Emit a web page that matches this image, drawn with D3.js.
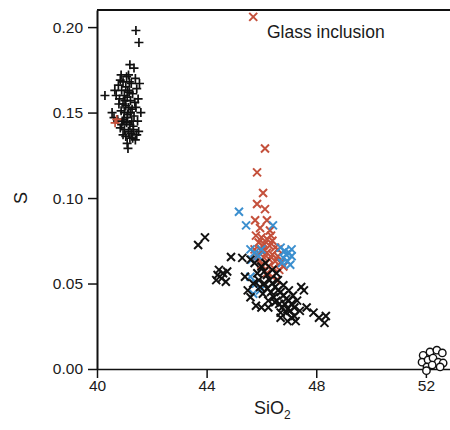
<!DOCTYPE html>
<html>
<head>
<meta charset="utf-8">
<script src="https://cdn.jsdelivr.net/npm/d3@7"></script>
<style>
  body { margin: 0; background: #fff; }
  text { font-family: "Liberation Sans", Arial, sans-serif; fill: #1a1a1a; }
</style>
</head>
<body>
<div class="div_d3"></div>
<script>
// [SiO2, S]
const plusBlack = [
  [41.42,0.198],[41.53,0.191],[40.29,0.160],[41.13,0.129],
  [41.20,0.178],[41.35,0.176],[41.15,0.172],[41.40,0.170],[40.85,0.169],[40.95,0.168],
  [41.25,0.167],[40.78,0.166],[41.05,0.165],[41.45,0.164],[40.90,0.163],[41.18,0.162],
  [41.30,0.161],[41.00,0.160],[41.10,0.159],[40.82,0.158],[41.22,0.157],[41.38,0.156],
  [40.95,0.155],[41.05,0.154],[41.15,0.153],[41.28,0.152],[40.88,0.151],[41.00,0.150],
  [41.12,0.149],[41.35,0.148],[40.55,0.150],[40.62,0.147],[40.75,0.146],[40.92,0.145],
  [41.08,0.144],[41.20,0.143],[41.32,0.142],[40.85,0.141],[41.00,0.140],[41.15,0.139],
  [41.25,0.138],[40.95,0.137],[41.05,0.136],[41.30,0.135],[41.40,0.134],[40.90,0.143],
  [41.10,0.147],[41.22,0.150],[41.02,0.157],[41.12,0.163],[41.18,0.168],[41.08,0.171],
  [40.98,0.146],[40.80,0.155],[41.42,0.153],[41.48,0.145],[41.50,0.158],[41.27,0.145],
  [40.70,0.160],[40.88,0.172],[41.55,0.167],[41.33,0.140],[41.20,0.135],[41.10,0.132],
  [41.60,0.150],[41.52,0.139],[41.45,0.137],[40.65,0.163]
];
const plusRed = [[40.66,0.144],[40.72,0.146]];

const crossBlack = [
  [43.69,0.0725],[43.94,0.077],[44.89,0.0655],[44.45,0.058],[44.60,0.056],[44.55,0.053],
  [44.75,0.057],[44.40,0.055],[44.35,0.052],[44.70,0.051],
  [45.30,0.065],[45.60,0.064],[45.75,0.062],[45.40,0.054],[45.50,0.046],[45.60,0.042],
  [45.80,0.037],[46.00,0.036],[46.25,0.036],[46.50,0.039],[46.70,0.033],[46.90,0.033],
  [47.10,0.030],[47.20,0.031],[47.45,0.048],[47.55,0.046],[47.65,0.036],[47.90,0.033],
  [48.10,0.030],[48.30,0.027],[48.35,0.031],
  [46.00,0.060],[46.10,0.057],[46.20,0.055],[46.30,0.052],[46.40,0.050],[46.50,0.048],
  [46.60,0.046],[46.70,0.045],[46.80,0.043],[46.90,0.041],[47.00,0.040],[47.10,0.038],
  [47.20,0.036],[46.35,0.045],[46.45,0.042],[46.55,0.040],[46.65,0.038],[46.75,0.036],
  [46.85,0.038],[46.95,0.035],[47.05,0.034],[46.20,0.047],[46.10,0.050],[45.90,0.052],
  [45.85,0.056],[46.05,0.044],[46.25,0.040],[46.60,0.052],[46.80,0.049],[47.00,0.046],
  [47.15,0.043],[47.30,0.040],[46.40,0.058],[46.55,0.056],[45.95,0.048],[46.70,0.030],
  [47.25,0.028],[46.95,0.028],[47.40,0.034],[45.70,0.050],[46.15,0.062]
];
const crossRed = [
  [45.70,0.206],[46.13,0.129],[45.84,0.115],[46.06,0.103],[45.84,0.0965],[46.13,0.0935],
  [45.77,0.087],[46.20,0.087],[45.95,0.0825],[46.31,0.081],
  [45.80,0.078],[46.00,0.077],[46.20,0.076],[46.40,0.075],[45.90,0.074],[46.10,0.073],
  [46.30,0.072],[46.50,0.071],[45.75,0.070],[46.00,0.069],[46.20,0.068],[46.40,0.067],
  [46.60,0.066],[45.85,0.066],[46.10,0.065],[46.30,0.064],[46.50,0.063],[46.70,0.062],
  [46.00,0.061],[46.25,0.060],[46.45,0.059],[46.65,0.058],[46.20,0.056],[46.40,0.054],
  [46.55,0.052],[46.05,0.072],[46.35,0.078],[46.60,0.070],[46.80,0.060],[45.95,0.063]
];
const crossBlue = [
  [45.18,0.092],[45.44,0.084],[46.42,0.084],
  [46.70,0.071],[46.85,0.069],[47.00,0.068],[47.10,0.066],[46.80,0.065],[46.95,0.063],
  [47.05,0.061],[46.75,0.062],[46.90,0.067],[47.10,0.070],
  [45.60,0.070],[45.75,0.068],[45.90,0.066],[45.65,0.064],[46.00,0.070],
  [45.60,0.054],[45.80,0.050],[45.95,0.046],[45.70,0.044]
];
const circles = [
  [51.90,0.008],[52.15,0.010],[52.40,0.011],[52.60,0.0094],[51.86,0.004],[52.08,0.0053],
  [52.26,0.0064],[52.45,0.004],[52.63,0.0035],[52.04,0.0012],[52.23,0.0023],[52.52,0.0012],
  [52.02,-0.001]
];

const xTicks = [40, 44, 48, 52];
const yTicks = [0, 0.05, 0.10, 0.15, 0.20];

const margin = {top: 10, right: 0, bottom: 61, left: 97},
      width = 450 - margin.left - margin.right,
      height = 430 - margin.top - margin.bottom;

const red = "#c4503b", blue = "#3b8fcf", ink = "#111";

const svg = d3.select(".div_d3")
  .append("svg")
    .attr("width", 450)
    .attr("height", 430)
  .append("g")
    .attr("transform", `translate(${margin.left},${margin.top})`);

const x = d3.scaleLinear().domain([40, 52.88]).range([0, width]);
const y = d3.scaleLinear().domain([0, 0.21]).range([height, 0]);

// axes
const xAxis = svg.append("g")
  .attr("transform", `translate(0,${height})`)
  .call(d3.axisBottom(x).tickValues(xTicks).tickSize(9).tickSizeOuter(0).tickPadding(2));
const yAxis = svg.append("g")
  .call(d3.axisLeft(y).tickValues(yTicks).tickFormat(d3.format(".2f")).tickSize(9).tickSizeOuter(0).tickPadding(5));

[xAxis, yAxis].forEach(a => {
  a.selectAll("text").style("font-size", "15.5px").attr("fill", "#1a1a1a");
  a.selectAll("line").attr("stroke", ink).attr("stroke-width", 1.5);
  a.select(".domain").attr("stroke", ink).attr("stroke-width", 1.6);
});
yAxis.select(".domain").attr("stroke-width", 2);

// top frame line
svg.append("line")
  .attr("x1", 0).attr("x2", width)
  .attr("y1", 0).attr("y2", 0)
  .attr("stroke", ink).attr("stroke-width", 2.2);

// markers
function drawPlus(data, color){
  const s = 4.5;
  svg.append("g").selectAll("path")
    .data(data)
    .join("path")
      .attr("d", d => `M${x(d[0])-s},${y(d[1])}H${x(d[0])+s}M${x(d[0])},${y(d[1])-s}V${y(d[1])+s}`)
      .attr("stroke", color)
      .attr("stroke-width", 1.7)
      .attr("fill", "none");
}
function drawCross(data, color){
  const s = 4;
  svg.append("g").selectAll("path")
    .data(data)
    .join("path")
      .attr("d", d => `M${x(d[0])-s},${y(d[1])-s}L${x(d[0])+s},${y(d[1])+s}M${x(d[0])-s},${y(d[1])+s}L${x(d[0])+s},${y(d[1])-s}`)
      .attr("stroke", color)
      .attr("stroke-width", 2)
      .attr("fill", "none");
}

drawPlus(plusBlack, ink);
drawPlus(plusRed, red);
drawCross(crossRed, red);
drawCross(crossBlue, blue);
drawCross(crossBlack, ink);

svg.append("g").selectAll("circle")
  .data(circles)
  .join("circle")
    .attr("cx", d => x(d[0]))
    .attr("cy", d => y(d[1]))
    .attr("r", 3.7)
    .attr("fill", "#fff")
    .attr("stroke", ink)
    .attr("stroke-width", 1.4);

// labels
svg.append("text")
  .attr("x", 170)
  .attr("y", 28)
  .style("font-size", "17.5px")
  .text("Glass inclusion");

const xl = svg.append("text")
  .attr("text-anchor", "middle")
  .attr("x", x(46.4))
  .attr("y", height + 45)
  .style("font-size", "18px");
xl.append("tspan").text("SiO");
xl.append("tspan").attr("dy", 5).style("font-size", "12px").text("2");

svg.append("text")
  .attr("text-anchor", "middle")
  .attr("transform", `translate(${-70},${y(0.10)}) rotate(-90)`)
  .style("font-size", "18px")
  .text("S");
</script>
</body>
</html>
